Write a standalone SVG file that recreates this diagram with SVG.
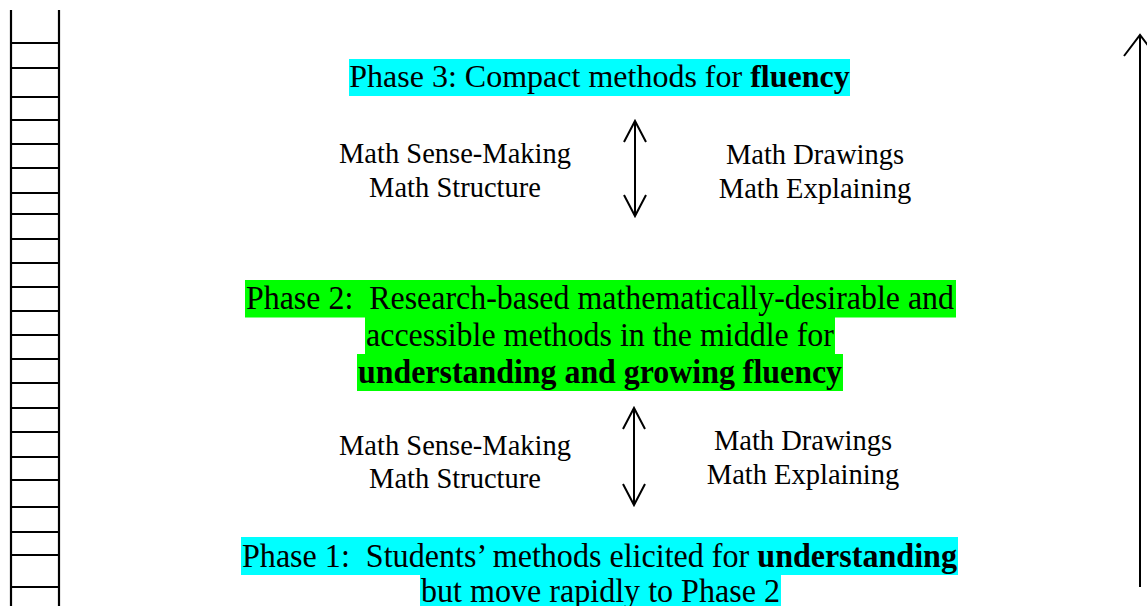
<svg xmlns="http://www.w3.org/2000/svg" width="1147" height="606" viewBox="0 0 1147 606">
<style>
.t{font-family:"Liberation Serif","Times New Roman",serif;fill:#000;white-space:pre}
.ph{font-size:32px}
.ph2{font-size:33.5px}
.lb{font-size:28.5px}
.b{font-weight:bold}
.ln{stroke:#000;stroke-width:2;fill:none}
.lad{stroke:#000;stroke-width:2.2;fill:none}
</style>
<rect width="1147" height="606" fill="#fff"/>
<g id="ladder">
<path class="lad" d="M11 10V606M59 10V606M11 43H59M11 68H59M11 97H59M11 120H59M11 144H59M11 168H59M11 193H59M11 214H59M11 239H59M11 263H59M11 287H59M11 311H59M11 335H59M11 359H59M11 383H59M11 408H59M11 432H59M11 457H59M11 480H59M11 507H59M11 532H59M11 555H59M11 587H59"/>
</g>
<g id="phase3">
<rect x="349" y="59" width="501" height="37" fill="#00FFFF"/>
<text class="t ph" x="599.5" y="87" text-anchor="middle">Phase 3: Compact methods for <tspan class="b">fluency</tspan></text>
</g>
<g id="phase2">
<rect x="245" y="280" width="711" height="37.5" fill="#00FF00"/>
<rect x="365" y="317" width="470" height="37.5" fill="#00FF00"/>
<rect x="357" y="354" width="486" height="37" fill="#00FF00"/>
<text class="t ph2" x="246" y="309" textLength="708" lengthAdjust="spacingAndGlyphs">Phase 2:  Research-based mathematically-desirable and</text>
<text class="t ph2" x="366" y="346" textLength="468" lengthAdjust="spacingAndGlyphs">accessible methods in the middle for</text>
<text class="t ph2 b" x="358" y="383" textLength="484" lengthAdjust="spacingAndGlyphs">understanding and growing fluency</text>
</g>
<g id="phase1">
<rect x="241" y="537" width="717" height="38" fill="#00FFFF"/>
<rect x="420" y="575" width="361" height="31" fill="#00FFFF"/>
<text class="t ph2" x="242" y="567" textLength="715" lengthAdjust="spacingAndGlyphs">Phase 1:  Students’ methods elicited for <tspan class="b">understanding</tspan></text>
<text class="t ph2" x="421" y="602" textLength="359" lengthAdjust="spacingAndGlyphs">but move rapidly to Phase 2</text>
</g>
<g id="labels-upper-left">
<text class="t lb" x="455" y="163" text-anchor="middle">Math Sense-Making</text>
<text class="t lb" x="455" y="197" text-anchor="middle">Math Structure</text>
</g>
<g id="labels-upper-right">
<text class="t lb" x="815" y="164" text-anchor="middle">Math Drawings</text>
<text class="t lb" x="815" y="198" text-anchor="middle">Math Explaining</text>
</g>
<g id="labels-lower-left">
<text class="t lb" x="455" y="455" text-anchor="middle">Math Sense-Making</text>
<text class="t lb" x="455" y="488" text-anchor="middle">Math Structure</text>
</g>
<g id="labels-lower-right">
<text class="t lb" x="803" y="450" text-anchor="middle">Math Drawings</text>
<text class="t lb" x="803" y="484" text-anchor="middle">Math Explaining</text>
</g>
<g id="connectors">
<path class="ln" d="M635 121V216M624 142L635 121L646 142M624 195L635 216L646 195"/>
<path class="ln" d="M634 408V505M623 429L634 408L645 429M623 484L634 505L645 484"/>
<path class="ln" d="M1140 587V35M1124 56L1140 35L1156 56"/>
</g>
</svg>
